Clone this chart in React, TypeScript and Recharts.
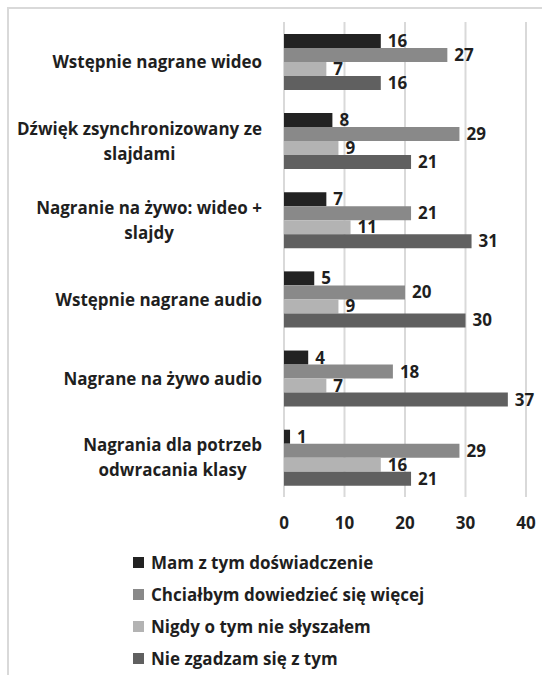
import { BarChart, Bar, XAxis, YAxis, CartesianGrid, LabelList, Legend } from "recharts";

document.body.style.margin = "0";

const FONT = "'Open Sans', Lato, sans-serif";
const TEXT = "#1f1f1f";
const FS = 17;

// category labels, already wrapped the way the original shows them
const categoryLines = [
    ["Wstępnie nagrane wideo"],
    ["Dźwięk zsynchronizowany ze", "slajdami"],
    ["Nagranie na żywo: wideo +", "slajdy"],
    ["Wstępnie nagrane audio"],
    ["Nagrane na żywo audio"],
    ["Nagrania dla potrzeb", "odwracania klasy"],
];
const categories = categoryLines.map((l) => l.join(" "));

const mamValues = [16, 8, 7, 5, 4, 1];
const chcialbymValues = [27, 29, 21, 20, 18, 29];
const nigdyValues = [7, 9, 11, 9, 7, 16];
const nieValues = [16, 21, 31, 30, 37, 21];

const xTicks = [0, 10, 20, 30, 40];

const series = [
    { key: "mam", name: "Mam z tym doświadczenie", color: "#222222", values: mamValues },
    { key: "chcialbym", name: "Chciałbym dowiedzieć się więcej", color: "#898989", values: chcialbymValues },
    { key: "nigdy", name: "Nigdy o tym nie słyszałem", color: "#b3b3b3", values: nigdyValues },
    { key: "nie", name: "Nie zgadzam się z tym", color: "#606060", values: nieValues },
];

const data = categories.map((name, i) => {
    const row: Record<string, string | number> = { name };
    series.forEach((s) => (row[s.key] = s.values[i]));
    return row;
});

let ctx: CanvasRenderingContext2D | null = null;
function measure(text: string) {
    if (!ctx) ctx = document.createElement("canvas").getContext("2d");
    if (!ctx) return text.length * 9;
    ctx.font = `700 ${FS}px ${FONT}`;
    return ctx.measureText(text).width;
}

const LINE_H = 25;

function CategoryTick({ x, y, payload }: any) {
    const idx = categories.indexOf(payload.value);
    const lines = categoryLines[idx] ?? [payload.value];
    const style = { fontFamily: FONT, fontSize: FS, fontWeight: 700, fill: TEXT };
    if (lines.length === 1) {
        return (
            <text x={x} y={y} textAnchor="end" dominantBaseline="central" style={style}>
                {lines[0]}
            </text>
        );
    }
    // wrapped lines are centered under each other, block is right aligned
    const maxW = Math.max(...lines.map(measure));
    const cx = x - maxW / 2;
    return (
        <g>
            {lines.map((line: string, i: number) => (
                <text
                    key={i}
                    x={cx}
                    y={y + (i - (lines.length - 1) / 2) * LINE_H}
                    textAnchor="middle"
                    dominantBaseline="central"
                    style={style}
                >
                    {line}
                </text>
            ))}
        </g>
    );
}

function LegendBox() {
    return (
        <div style={{ width: 542, height: 140, paddingTop: 11, boxSizing: "border-box" }}>
            {series.map((s) => (
                <div
                    key={s.key}
                    style={{ height: 32, display: "flex", alignItems: "center", paddingLeft: 133 }}
                >
                    <div style={{ width: 11, height: 11, background: s.color, marginRight: 7 }} />
                    <span
                        style={{ fontFamily: FONT, fontSize: FS, fontWeight: 700, color: TEXT, whiteSpace: "nowrap" }}
                    >
                        {s.name}
                    </span>
                </div>
            ))}
        </div>
    );
}

export default function App() {
    return (
        <div style={{ position: "relative", width: 542, height: 675 }}>
            <div
                style={{
                    position: "absolute",
                    left: 7,
                    top: 7,
                    width: 535,
                    height: 668,
                    borderLeft: "2px solid #d9d9d9",
                    borderTop: "2px solid #d9d9d9",
                    boxSizing: "border-box",
                }}
            />
            <div style={{ position: "absolute", left: 0, top: 0 }}>
                <BarChart
                    width={542}
                    height={675}
                    data={data}
                    layout="vertical"
                    margin={{ top: 22, right: 16, bottom: 0, left: 0 }}
                    barCategoryGap="15%"
                    barGap={0}
                >
                    <CartesianGrid horizontal={false} stroke="#d9d9d9" strokeWidth={2} />
                    <XAxis
                        type="number"
                        domain={[0, 40]}
                        ticks={xTicks}
                        axisLine={false}
                        tickLine={false}
                        tickSize={0}
                        tickMargin={20}
                        height={38}
                        tick={{ fill: TEXT, fontSize: FS, fontWeight: 700, fontFamily: FONT }}
                    />
                    <YAxis
                        type="category"
                        dataKey="name"
                        width={284}
                        axisLine={false}
                        tickLine={false}
                        tickSize={0}
                        tickMargin={22}
                        interval={0}
                        tick={<CategoryTick />}
                    />
                    {series.map((s) => (
                        <Bar key={s.key} dataKey={s.key} name={s.name} fill={s.color} isAnimationActive={false}>
                            <LabelList
                                dataKey={s.key}
                                position="right"
                                offset={7}
                                style={{ fill: TEXT, fontSize: FS, fontWeight: 700, fontFamily: FONT }}
                            />
                        </Bar>
                    ))}
                    <Legend verticalAlign="bottom" align="left" height={140} content={() => <LegendBox />} />
                </BarChart>
            </div>
        </div>
    );
}
